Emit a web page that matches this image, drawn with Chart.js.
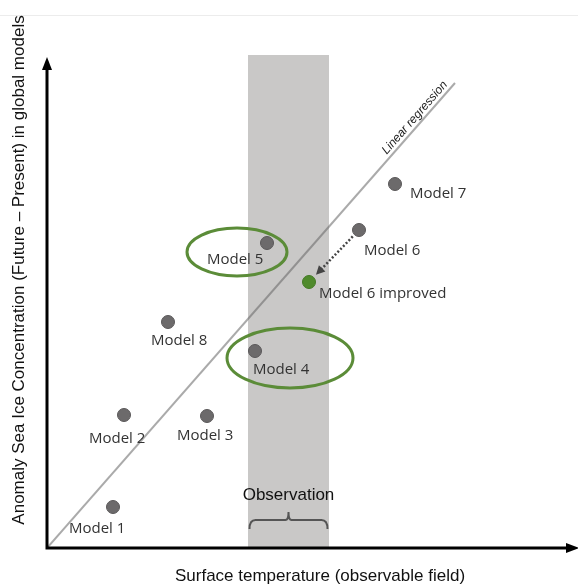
<!DOCTYPE html>
<html>
<head>
<meta charset="utf-8">
<script src="https://cdn.jsdelivr.net/npm/chart.js@4/dist/chart.umd.min.js"></script>
<style>
  html, body { margin: 0; padding: 0; background: #fff; }
  #wrap { width: 578px; height: 588px; }
</style>
</head>
<body>
<div id="wrap"><canvas id="chart" width="578" height="588"></canvas></div>
<script>
// schematic: model temperature vs sea ice anomaly (no tick values, units ~ px)
const modelNames = ['Model 1', 'Model 2', 'Model 3', 'Model 4', 'Model 5', 'Model 6', 'Model 7', 'Model 8'];
const modelTemp = [66, 77, 160, 208, 220, 312, 348, 121];
const modelIce = [41, 133, 132, 197, 305, 318, 364, 226];

const improvedName = 'Model 6 improved';
const improvedTemp = [262];
const improvedIce = [266];

const regressionTemp = [0, 408];
const regressionIce = [0, 465];

const observationRange = [201, 282];

const xTitle = 'Surface temperature (observable field)';
const yTitle = 'Anomaly Sea Ice Concentration (Future \u2013 Present) in global models';

const labelFont = '15px "Open Sans"';
// label offset (px) from each point: text left / baseline
const labelOffsets = {
  'Model 1': [-44, 26], 'Model 2': [-35, 28], 'Model 3': [-30, 24], 'Model 4': [-2, 23],
  'Model 5': [-60, 21], 'Model 6': [5, 25], 'Model 7': [15, 14], 'Model 8': [-17, 23],
  'Model 6 improved': [10, 16]
};

const decorations = {
  id: 'decorations',
  beforeDatasetsDraw(chart) {
    const { ctx, chartArea, scales: { x, y } } = chart;
    ctx.save();
    // faint top rule
    ctx.strokeStyle = '#ececec';
    ctx.lineWidth = 1;
    ctx.beginPath();
    ctx.moveTo(0, 15.5);
    ctx.lineTo(578, 15.5);
    ctx.stroke();

    // observation band
    const bx0 = x.getPixelForValue(observationRange[0]);
    const bx1 = x.getPixelForValue(observationRange[1]);
    ctx.fillStyle = '#c9c8c7';
    ctx.fillRect(bx0, chartArea.top, bx1 - bx0, chartArea.bottom - chartArea.top);

    // green ellipses around model 5 and model 4
    ctx.strokeStyle = '#5b8c38';
    ctx.lineWidth = 3;
    [[190, 296, 50, 24], [243, 190, 63, 30]].forEach(([cx, cy, rx, ry]) => {
      ctx.beginPath();
      ctx.ellipse(x.getPixelForValue(cx), y.getPixelForValue(cy), rx, ry, 0, 0, Math.PI * 2);
      ctx.stroke();
    });
    ctx.restore();
  },
  afterDatasetsDraw(chart) {
    const { ctx, chartArea, scales: { x, y } } = chart;
    ctx.save();

    // dotted arrow model 6 -> improved
    const sx = x.getPixelForValue(modelTemp[5]), sy = y.getPixelForValue(modelIce[5]);
    const ex = x.getPixelForValue(improvedTemp[0]), ey = y.getPixelForValue(improvedIce[0]);
    const len = Math.hypot(ex - sx, ey - sy);
    const ux = (ex - sx) / len, uy = (ey - sy) / len;
    const ax = sx + ux * 9, ay = sy + uy * 9;
    const tx = ex - ux * 10, ty = ey - uy * 10;
    ctx.strokeStyle = '#444';
    ctx.fillStyle = '#444';
    ctx.lineWidth = 2.5;
    ctx.setLineDash([2, 2]);
    ctx.beginPath();
    ctx.moveTo(ax, ay);
    ctx.lineTo(tx - ux * 6, ty - uy * 6);
    ctx.stroke();
    ctx.setLineDash([]);
    ctx.beginPath();
    ctx.moveTo(tx, ty);
    ctx.lineTo(tx - ux * 9 - uy * 4.5, ty - uy * 9 + ux * 4.5);
    ctx.lineTo(tx - ux * 9 + uy * 4.5, ty - uy * 9 - ux * 4.5);
    ctx.closePath();
    ctx.fill();

    // point labels
    ctx.font = labelFont;
    ctx.fillStyle = '#333';
    ctx.textAlign = 'left';
    ctx.textBaseline = 'alphabetic';
    modelNames.forEach((name, i) => {
      const o = labelOffsets[name];
      ctx.fillText(name, x.getPixelForValue(modelTemp[i]) + o[0], y.getPixelForValue(modelIce[i]) + o[1]);
    });
    const oi = labelOffsets[improvedName];
    ctx.fillText(improvedName, x.getPixelForValue(improvedTemp[0]) + oi[0], y.getPixelForValue(improvedIce[0]) + oi[1]);

    // regression label along the line
    const lx0 = x.getPixelForValue(regressionTemp[0]), ly0 = y.getPixelForValue(regressionIce[0]);
    const lx1 = x.getPixelForValue(regressionTemp[1]), ly1 = y.getPixelForValue(regressionIce[1]);
    const ang = Math.atan2(ly1 - ly0, lx1 - lx0);
    ctx.save();
    ctx.translate(lx0 + (lx1 - lx0) * 0.915, ly0 + (ly1 - ly0) * 0.915);
    ctx.rotate(ang);
    ctx.font = 'italic 12px "Liberation Sans"';
    ctx.fillStyle = '#222';
    ctx.textAlign = 'center';
    ctx.fillText('Linear regression', 0, -4);
    ctx.restore();

    // observation label + brace
    const bx0 = x.getPixelForValue(observationRange[0]) + 1.5;
    const bx1 = x.getPixelForValue(observationRange[1]) - 1.5;
    const bm = (bx0 + bx1) / 2;
    ctx.font = '17px "Liberation Sans"';
    ctx.fillStyle = '#111';
    ctx.textAlign = 'center';
    ctx.fillText('Observation', bm, 500);
    ctx.strokeStyle = '#555';
    ctx.lineWidth = 2;
    ctx.beginPath();
    ctx.moveTo(bx0, 529);
    ctx.quadraticCurveTo(bx0, 520, bx0 + 6, 520);
    ctx.lineTo(bm - 3, 520);
    ctx.quadraticCurveTo(bm, 520, bm, 512);
    ctx.quadraticCurveTo(bm, 520, bm + 3, 520);
    ctx.lineTo(bx1 - 6, 520);
    ctx.quadraticCurveTo(bx1, 520, bx1, 529);
    ctx.stroke();

    // axes with arrowheads
    const ox = chartArea.left, oy = chartArea.bottom;
    ctx.strokeStyle = '#000';
    ctx.fillStyle = '#000';
    ctx.lineWidth = 3;
    ctx.beginPath();
    ctx.moveTo(ox, 66);
    ctx.lineTo(ox, oy);
    ctx.lineTo(569, oy);
    ctx.stroke();
    ctx.beginPath();
    ctx.moveTo(ox, 57);
    ctx.lineTo(ox - 5, 70);
    ctx.lineTo(ox + 5, 70);
    ctx.closePath();
    ctx.fill();
    ctx.beginPath();
    ctx.moveTo(579, oy);
    ctx.lineTo(566, oy - 5);
    ctx.lineTo(566, oy + 5);
    ctx.closePath();
    ctx.fill();

    // axis titles
    ctx.font = '17px "Liberation Sans"';
    ctx.fillStyle = '#111';
    ctx.textAlign = 'center';
    ctx.fillText(xTitle, 320, 581);
    ctx.save();
    ctx.translate(24, 270);
    ctx.rotate(-Math.PI / 2);
    ctx.fillText(yTitle, 0, 0);
    ctx.restore();

    ctx.restore();
  }
};

new Chart(document.getElementById('chart'), {
  type: 'scatter',
  data: {
    datasets: [
      {
        type: 'line',
        label: 'Linear regression',
        data: regressionTemp.map((t, i) => ({ x: t, y: regressionIce[i] })),
        borderColor: 'rgba(100,100,100,0.55)',
        borderWidth: 2,
        pointRadius: 0,
        fill: false,
        order: 3
      },
      {
        label: 'Models',
        data: modelTemp.map((t, i) => ({ x: t, y: modelIce[i] })),
        backgroundColor: '#6c6a6b',
        borderColor: '#5a5859',
        borderWidth: 1,
        pointRadius: 6.5,
        order: 1
      },
      {
        label: improvedName,
        data: improvedTemp.map((t, i) => ({ x: t, y: improvedIce[i] })),
        backgroundColor: '#4f8a2c',
        borderColor: '#447a25',
        borderWidth: 1,
        pointRadius: 6.5,
        order: 1
      }
    ]
  },
  options: {
    responsive: false,
    animation: false,
    devicePixelRatio: 1,
    layout: { autoPadding: false, padding: { left: 47, top: 55, right: 0, bottom: 40 } },
    scales: {
      x: { type: 'linear', min: 0, max: 531, display: false },
      y: { type: 'linear', min: 0, max: 493, display: false }
    },
    plugins: {
      legend: { display: false },
      tooltip: { enabled: false }
    }
  },
  plugins: [decorations]
});
</script>
</body>
</html>
